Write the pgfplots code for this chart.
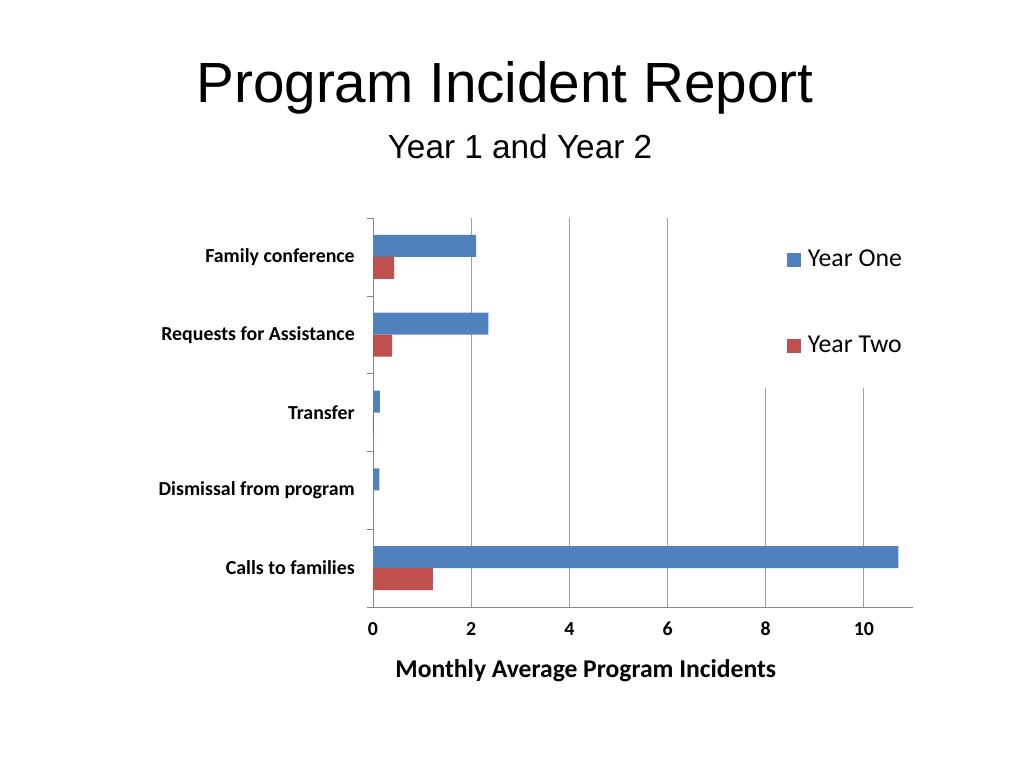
\documentclass[border=0pt]{standalone}
\usepackage{pgfplots}
\pgfplotsset{compat=1.18}
\usepackage{fontspec}
\setmainfont{Carlito}
\newfontfamily\arialfont{Liberation Sans}
\definecolor{yone}{HTML}{4F81BD}
\definecolor{ytwo}{HTML}{C0504D}
\definecolor{gridc}{HTML}{A0A0A0}
\definecolor{axisc}{HTML}{868686}
\begin{document}
\begin{tikzpicture}
\path[fill=white] (0pt,0pt) rectangle (768pt,576pt);
\node[font=\arialfont\fontsize{42.5}{50}\selectfont, anchor=center] at (378.75pt,510pt) {Program Incident Report};
\node[font=\arialfont\fontsize{25}{30}\selectfont, anchor=center] at (390pt,465.75pt) {Year 1 and Year 2};
\begin{axis}[
  at={(279.75pt,120.75pt)}, anchor=south west,
  scale only axis, width=405pt, height=291.75pt,
  xbar, bar width=16.5pt,
  xmin=0, xmax=11, ymin=-0.5, ymax=4.5,
  axis x line=bottom, axis y line=left,
  axis line style={-, draw=axisc},
  xtick={0,2,...,10},
  ytick={0,1,2,3,4},
  yticklabels={Calls to families, Dismissal from program, Transfer, Requests for Assistance, Family conference},
  minor ytick={-0.5,0.5,1.5,2.5,3.5,4.5},
  major tick length=0pt, minor tick length=4.5pt,
  tick align=outside,
  minor tick style={draw=axisc},
  xmajorgrids, grid style={draw=gridc, line width=0.7pt},
  /pgf/number format/assume math mode=true,
  ticklabel style={font=\bfseries\fontsize{14.9}{17}\selectfont},
  yticklabel style={anchor=east, inner sep=0pt, xshift=-13.5pt},
  xticklabel style={anchor=north, inner sep=0pt, text height=10pt, text depth=0pt, yshift=-11pt},
  xlabel={Monthly Average Program Incidents},
  xlabel style={font=\bfseries\fontsize{19.2}{23}\selectfont, at={(axis description cs:0.394,-0.165)}, anchor=center},
  legend image code/.code={\fill[#1,draw=none] (0pt,-5.25pt) rectangle (10.5pt,5.25pt);},
  legend style={at={(rel axis cs:0.6926,1)}, anchor=north west, fill=white, draw=none,
    inner xsep=30pt, inner ysep=23pt, row sep=47.5pt, column sep=5pt,
    nodes={inner sep=0pt, text height=13pt, text depth=4pt},
    font=\fontsize{19.3}{23}\selectfont},
  legend cell align=left,
]
\addplot[fill=yone, draw=none, bar shift=8.25pt] coordinates {(10.70,0) (0.13,1) (0.14,2) (2.35,3) (2.10,4)};
\addplot[fill=ytwo, draw=none, bar shift=-8.25pt] coordinates {(1.22,0) (0,1) (0.02,2) (0.39,3) (0.43,4)};
\legend{Year One, Year Two}
\end{axis}
\end{tikzpicture}
\end{document}
